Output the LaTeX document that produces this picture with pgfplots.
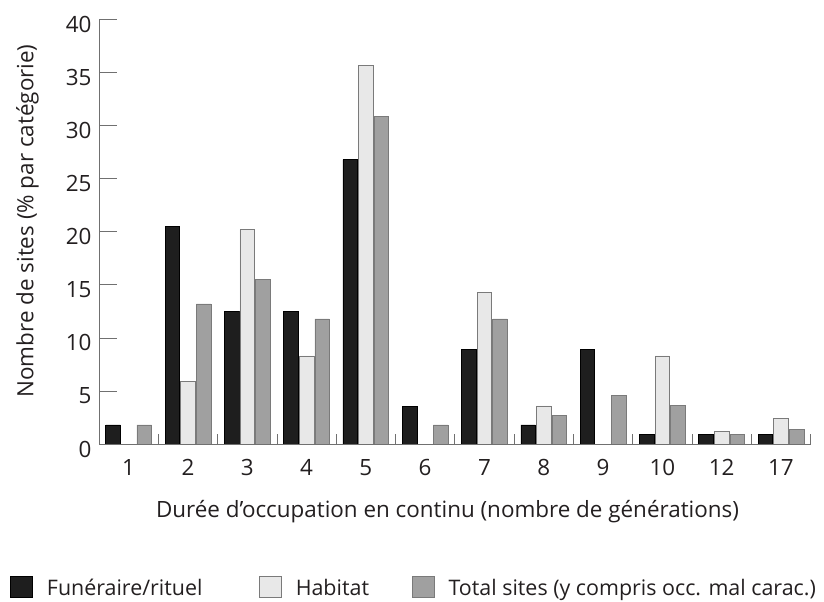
\documentclass[border=0pt]{standalone}
\usepackage{pgfplots}
\pgfplotsset{compat=1.18}
\usepackage{fontspec}
\setmainfont{Open Sans}
\definecolor{cblack}{HTML}{1E1E1E}
\definecolor{clight}{HTML}{E8E8E8}
\definecolor{cgrey}{HTML}{A0A0A0}
\definecolor{cedge}{HTML}{7A7A7A}
\definecolor{caxis}{HTML}{707070}
\definecolor{ctext}{HTML}{231F20}
\begin{document}
\begin{tikzpicture}
\useasboundingbox (0,0) rectangle (824bp,602bp);
\begin{axis}[
  at={(99bp,158bp)}, anchor=south west,
  scale only axis, width=711.6bp, height=424.3bp,
  xmin=0.5, xmax=12.5, ymin=0, ymax=40,
  ybar=1bp, bar width=14.6bp,
  axis x line*=bottom, axis y line*=left,
  axis line style={caxis, line width=0.8bp, -},
  font=\fontsize{22.5}{27}\selectfont,
  every tick label/.append style={text=ctext},
  label style={text=ctext},
  /pgf/number format/assume math mode=true,
  xtick={1,...,12},
  xticklabels={1,2,3,4,5,6,7,8,9,10,12,17},
  major x tick style={draw=none},
  minor xtick={0.5,1.5,...,12.5},
  minor x tick style={caxis, line width=0.8bp},
  minor tick length=10bp,
  ytick={0,5,...,40},
  major y tick style={caxis, line width=0.8bp},
  major tick length=18bp,
  tick align=inside,
  xticklabel style={yshift=-12bp},
  yticklabel style={xshift=-4bp, yshift=-5bp},
  ylabel={Nombre de sites (\% par catégorie)},
  ylabel style={at={(axis description cs:-0.0923,0.5256)}, anchor=base, rotate=0},
  xlabel={Durée d’occupation en continu (nombre de générations)},
  xlabel style={at={(axis description cs:0.4897,-0.1728)}, anchor=base},
  legend columns=3,
  legend style={at={(axis description cs:-0.1251,-0.363)}, anchor=south west, draw=none, fill=none,
    inner sep=0bp, nodes={inner sep=0bp, text=ctext}, cells={anchor=base west},
    font=\fontsize{21.5}{26}\selectfont,
    /tikz/every odd column/.append style={column sep=14bp},
    /tikz/every even column/.append style={column sep=0bp}},
  legend image code/.code={\draw[#1, line width=0.8bp] (0bp,-2bp) rectangle (22bp,19bp);},
]
\addplot[fill=cblack, draw=black, line width=0.6bp] coordinates {
(1,1.8) (2,20.5) (3,12.5) (4,12.5) (5,26.8) (6,3.55) (7,8.95) (8,1.8) (9,8.95) (10,0.9) (11,0.9) (12,0.9)};
\addlegendentry{\makebox[212bp][l]{Funéraire/rituel}}
\addplot[fill=clight, draw=cedge, line width=0.6bp] coordinates {
(1,0) (2,5.9) (3,20.2) (4,8.3) (5,35.7) (6,0) (7,14.3) (8,3.6) (9,0) (10,8.3) (11,1.2) (12,2.4)};
\addlegendentry{\makebox[116bp][l]{Habitat}}
\addplot[fill=cgrey, draw=cedge, line width=0.6bp] coordinates {
(1,1.8) (2,13.2) (3,15.5) (4,11.8) (5,30.9) (6,1.8) (7,11.8) (8,2.7) (9,4.55) (10,3.65) (11,0.9) (12,1.35)};
\addlegendentry{Total sites (y compris occ. mal carac.)}
\end{axis}
\end{tikzpicture}
\end{document}
